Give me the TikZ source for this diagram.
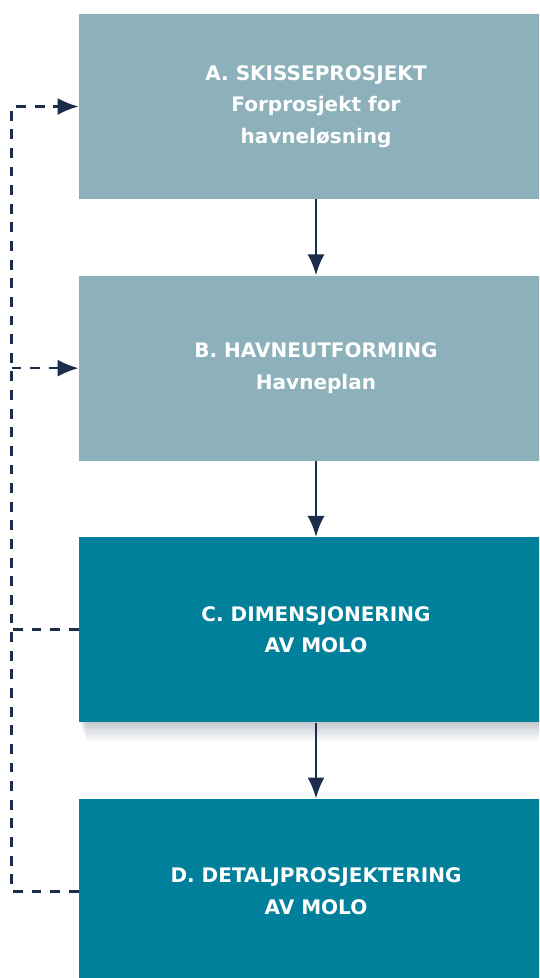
\documentclass[tikz,border=0pt]{standalone}
\usepackage{fontspec}
\setmainfont{DejaVu Sans}
\usetikzlibrary{arrows.meta, positioning}

\definecolor{stegLys}{HTML}{8DB1BA}
\definecolor{stegMork}{HTML}{00809A}
\definecolor{pilBla}{HTML}{1B2D4B}

\begin{document}
\begin{tikzpicture}[
    x=0.02cm, y=0.02cm, % one unit per pixel
    >={Latex[length=0.42cm, width=0.34cm]}, % Default arrow tip
    steg/.style={minimum width=9.48cm, minimum height=3.7cm, align=center,
        text=white, font=\bfseries\fontsize{11.4}{18}\selectfont, inner sep=0pt}, % Step boxes
    lag/.style={preaction={fill=pilBla, fill opacity=0.035,
        transform canvas={xshift=#1*0.4, yshift=-#1}}}, % One layer of soft shadow
    lys/.style={steg, fill=stegLys}, % Early phases
    mork/.style={steg, fill=stegMork, lag=1.5pt, lag=3pt, lag=4.5pt, lag=6pt,
        lag=7.5pt, lag=9pt, lag=10.5pt}, % Later phases, with shadow
    flyt/.style={->, pilBla, line width=1.4pt}, % Arrows between steps
    tilbake/.style={pilBla, line width=1.5pt, dash pattern=on 5.6pt off 5pt} % Feedback line
]

    % Page area
    \clip (0,0) rectangle (539,-978);
    \fill[white] (0,0) rectangle (539,-978);

    % Steps
    \node[lys] (skisse) at (316,-106.5) {A. SKISSEPROSJEKT\\Forprosjekt for\\havneløsning};
    \node[lys, below=1.52cm of skisse] (havneutf) {B. HAVNEUTFORMING\\Havneplan};
    \node[mork, below=1.52cm of havneutf] (dimensj) {C. DIMENSJONERING\\AV MOLO};
    \node[mork, below=1.52cm of dimensj] (detaljpr) {D. DETALJPROSJEKTERING\\AV MOLO};

    % Main flow
    \draw[flyt] (skisse) -- (havneutf);
    \draw[flyt] (havneutf) -- (dimensj);
    \draw[flyt] (dimensj) -- (detaljpr);

    % Feedback from C and D back to A and B
    \coordinate (venstre) at (11.5,0);
    \draw[tilbake, ->] (detaljpr.west) -| (venstre |- skisse.west) -- (skisse.west);
    \draw[tilbake] (dimensj.west) -- (venstre |- dimensj.west);
    \draw[tilbake, ->] (venstre |- havneutf.west) -- (havneutf.west);

\end{tikzpicture}
\end{document}
